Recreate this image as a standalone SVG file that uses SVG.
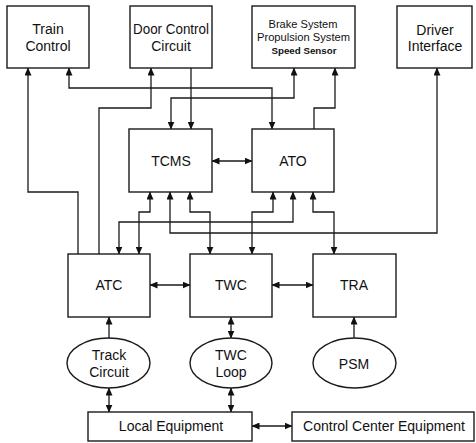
<svg xmlns="http://www.w3.org/2000/svg" width="476" height="443" viewBox="0 0 476 443">
<defs>
<style>
.box{fill:#fff;stroke:#1a1a1a;stroke-width:1.4}
.t{font-family:"Liberation Sans",Arial,sans-serif;font-size:14px;fill:#111;text-anchor:middle}
.s{font-family:"Liberation Sans",Arial,sans-serif;font-size:11.5px;fill:#111;text-anchor:middle}
.ss{font-family:"Liberation Sans",Arial,sans-serif;font-size:9px;font-weight:bold;fill:#111;text-anchor:middle}
.c{fill:none;stroke:#1a1a1a;stroke-width:1.3}
</style>
<marker id="a" markerUnits="userSpaceOnUse" markerWidth="8" markerHeight="7" refX="7.5" refY="3.5" orient="auto-start-reverse">
<path d="M0,0 L8,3.5 L0,7 z" fill="#111"/>
</marker>
</defs>
<rect width="476" height="443" fill="#fff"/>
<g id="connectors">
<path class="c" d="M78,254 V192 H28 V68" marker-end="url(#a)"/>
<path class="c" d="M69,68 V88 H272 V129" marker-start="url(#a)" marker-end="url(#a)"/>
<path class="c" d="M99,254 V108 H151 V68" marker-end="url(#a)"/>
<path class="c" d="M191,68 V129" marker-end="url(#a)"/>
<path class="c" d="M171,129 V98 H294 V68" marker-start="url(#a)" marker-end="url(#a)"/>
<path class="c" d="M314,129 V108 H335 V68" marker-end="url(#a)"/>
<path class="c" d="M170,192 V233 H437 V68" marker-start="url(#a)" marker-end="url(#a)"/>
<path class="c" d="M212,161 H252" marker-start="url(#a)" marker-end="url(#a)"/>
<path class="c" d="M150,192 V212 H139 V254" marker-start="url(#a)" marker-end="url(#a)"/>
<path class="c" d="M190,192 V212 H210 V254" marker-start="url(#a)" marker-end="url(#a)"/>
<path class="c" d="M119,254 V222 H293 V192" marker-start="url(#a)" marker-end="url(#a)"/>
<path class="c" d="M273,192 V212 H252 V254" marker-start="url(#a)" marker-end="url(#a)"/>
<path class="c" d="M313,192 V212 H334 V254" marker-start="url(#a)" marker-end="url(#a)"/>
<path class="c" d="M150,285 H190" marker-start="url(#a)" marker-end="url(#a)"/>
<path class="c" d="M272,285 H313" marker-start="url(#a)" marker-end="url(#a)"/>
<path class="c" d="M109,338 V317" marker-end="url(#a)"/>
<path class="c" d="M231,317 V338" marker-start="url(#a)" marker-end="url(#a)"/>
<path class="c" d="M354,338 V317" marker-end="url(#a)"/>
<path class="c" d="M109,388 V412" marker-start="url(#a)" marker-end="url(#a)"/>
<path class="c" d="M231,388 V412" marker-start="url(#a)" marker-end="url(#a)"/>
<path class="c" d="M252,426 H292" marker-start="url(#a)" marker-end="url(#a)"/>
</g>
<g id="train-control"><rect class="box" x="7" y="6" width="82" height="62"/><text class="t" x="48" y="34">Train</text><text class="t" x="48" y="51">Control</text></g>
<g id="door-control"><rect class="box" x="130" y="6" width="82" height="62"/><text class="t" x="171" y="34" textLength="76" lengthAdjust="spacingAndGlyphs">Door Control</text><text class="t" x="171" y="51">Circuit</text></g>
<g id="brake"><rect class="box" x="252" y="6" width="103" height="62"/><text class="s" x="303" y="28" textLength="69" lengthAdjust="spacingAndGlyphs">Brake System</text><text class="s" x="303.5" y="41" textLength="93" lengthAdjust="spacingAndGlyphs">Propulsion System</text><text class="ss" x="304" y="54" textLength="65" lengthAdjust="spacingAndGlyphs">Speed Sensor</text></g>
<g id="driver-interface"><rect class="box" x="397" y="6" width="75" height="62"/><text class="t" x="435" y="35">Driver</text><text class="t" x="435" y="51">Interface</text></g>
<g id="tcms"><rect class="box" x="129" y="129" width="83" height="63"/><text class="t" x="171" y="166">TCMS</text></g>
<g id="ato"><rect class="box" x="252" y="129" width="82" height="63"/><text class="t" x="293" y="166">ATO</text></g>
<g id="atc"><rect class="box" x="68" y="254" width="82" height="63"/><text class="t" x="109" y="290">ATC</text></g>
<g id="twc"><rect class="box" x="190" y="254" width="82" height="63"/><text class="t" x="231" y="290">TWC</text></g>
<g id="tra"><rect class="box" x="313" y="254" width="83" height="63"/><text class="t" x="354" y="290">TRA</text></g>
<g id="track-circuit"><ellipse class="box" cx="108.5" cy="363" rx="41.5" ry="25"/><text class="t" x="109" y="360">Track</text><text class="t" x="109" y="377">Circuit</text></g>
<g id="twc-loop"><ellipse class="box" cx="231" cy="363" rx="41" ry="25"/><text class="t" x="231" y="360">TWC</text><text class="t" x="231" y="377">Loop</text></g>
<g id="psm"><ellipse class="box" cx="354.5" cy="363" rx="41.5" ry="25"/><text class="t" x="354" y="369">PSM</text></g>
<g id="local-equipment"><rect class="box" x="88" y="412" width="164" height="29"/><text class="t" x="171" y="431">Local Equipment</text></g>
<g id="control-center"><rect class="box" x="292" y="412" width="182" height="29"/><text class="t" x="384" y="431">Control Center Equipment</text></g>
</svg>
